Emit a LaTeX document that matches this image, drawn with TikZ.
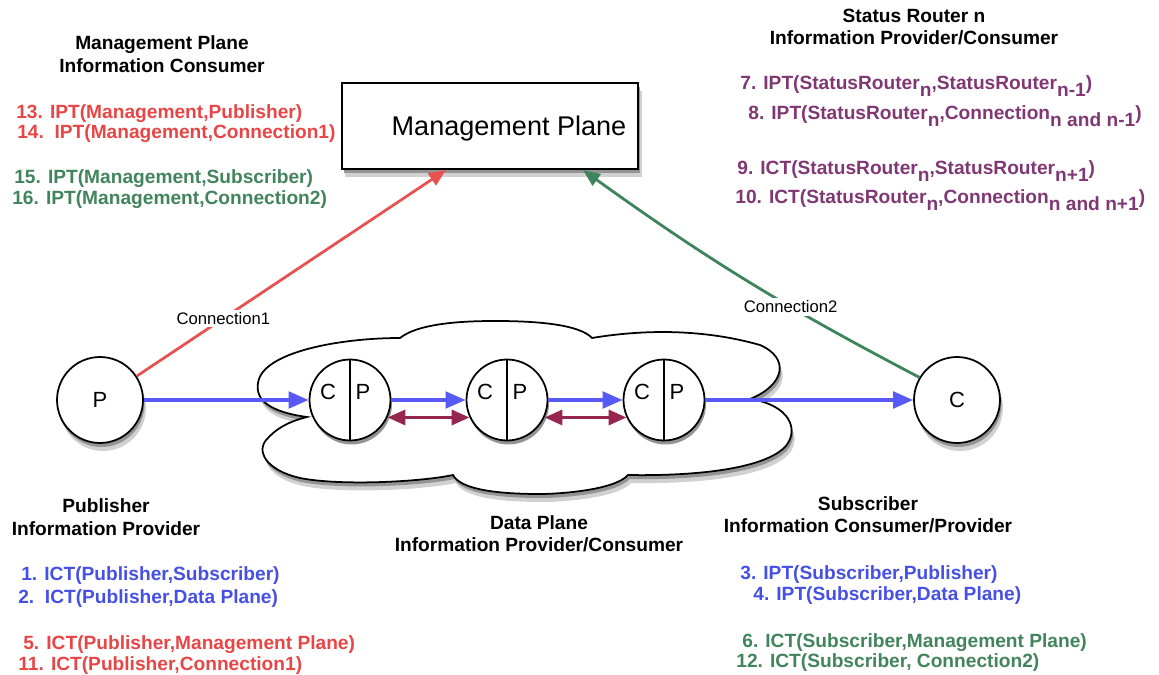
\documentclass[tikz,border=0pt]{standalone}
\usepackage{fontspec}
\setmainfont{Liberation Sans}
\usetikzlibrary{arrows.meta, positioning, calc}
\definecolor{lineblue}{RGB}{88, 90, 245}
\definecolor{textblue}{RGB}{70, 80, 228}
\definecolor{linered}{RGB}{232, 82, 82}
\definecolor{textred}{RGB}{232, 70, 70}
\definecolor{linegreen}{RGB}{62, 132, 92}
\definecolor{textgreen}{RGB}{66, 132, 92}
\definecolor{textpurple}{RGB}{128, 56, 116}
\definecolor{maroonred}{RGB}{150, 38, 80}
\newcommand{\sbs}[1]{\raisebox{-3.9pt}{#1}}
\newcommand{\cloudoutline}{(307,417) .. controls (270,412) and (255,400) .. (258,383)
      .. controls (262,352) and (340,338) .. (400,338)
      .. controls (420,322) and (470,321) .. (496,321)
      .. controls (540,321) and (580,325) .. (592,338)
      .. controls (640,330) and (700,328) .. (760,345)
      .. controls (790,358) and (785,385) .. (750,399)
      .. controls (790,405) and (800,430) .. (785,447)
      .. controls (760,472) and (680,476) .. (628,475)
      .. controls (615,490) and (560,494) .. (540,494)
      .. controls (490,494) and (460,488) .. (453,475)
      .. controls (420,482) and (340,486) .. (300,478)
      .. controls (265,470) and (255,450) .. (268,438)
      .. controls (280,425) and (295,420) .. (307,417) -- cycle}
\tikzset{
  flowarrow_blue/.style={-{Triangle[length=4mm, width=3.3mm]}, line width=2pt, lineblue},
  flowarrow_red/.style={-{Triangle[length=3.4mm, width=2.8mm]}, line width=1.6pt, linered},
  flowarrow_green/.style={-{Triangle[length=3.4mm, width=2.8mm]}, line width=1.6pt, linegreen},
  flowarrow_maroon/.style={{Triangle[length=3.6mm, width=3mm]}-{Triangle[length=3.6mm, width=3mm]}, line width=2pt, maroonred},
  shadowfar/.style={fill=black!18},
  shadownear/.style={fill=black!42}
}
\tikzset{
  endpoint/.style={circle, draw=black, line width=1pt, fill=white, minimum size=1.72cm, inner sep=0pt, font=\fontsize{12.5}{14}\selectfont},
  routercell/.style={circle, draw=black, line width=1pt, fill=white, minimum size=1.62cm, inner sep=0pt},
  celltext/.style={inner sep=0pt, font=\fontsize{12.5}{14}\selectfont},
  planebox/.style={rectangle, draw=black, line width=1.2pt, fill=white, minimum width=5.92cm, minimum height=1.72cm},
  boxtext/.style={inner sep=0pt, font=\fontsize{15.4}{18}\selectfont},
  headtext/.style={align=center, inner sep=0pt, font=\bfseries\fontsize{10.9}{12.8}\selectfont},
  itemtext/.style={anchor=base west, inner sep=0pt, font=\bfseries\fontsize{10.9}{13}\selectfont},
  linklabel/.style={fill=white, inner sep=1.5pt, text=black, font=\fontsize{9.5}{11}\selectfont}
}

\begin{document}
\begin{tikzpicture}[x=0.02cm, y=-0.02cm]
    \useasboundingbox (0,0) rectangle (1159,675);

    % Soft shadows
    \fill[shadowfar, shift={(3,8)}] \cloudoutline;
    \fill[shadownear, shift={(1.5,4)}] \cloudoutline;
    \fill[shadowfar] (345,91) rectangle (642,177);
    \fill[shadownear] (343.5,87) rectangle (640,173);
    \fill[shadowfar] (103,408) circle[radius=0.86cm];
    \fill[shadownear] (101.5,404) circle[radius=0.86cm];
    \fill[shadowfar] (960,408) circle[radius=0.86cm];
    \fill[shadownear] (958.5,404) circle[radius=0.86cm];

    % Data plane cloud
    \path[draw=black, line width=1pt, fill=white] \cloudoutline;

    % Management plane
    \node[planebox] (mgmt) at (490,126) {};
    \node[boxtext] (mgmtname) at (509,129) {Management Plane};

    % Publisher and subscriber
    \node[endpoint] (pub) at (100,400) {P};
    \node[endpoint] (sub) at (957,400) {C};

    % Status routers
    \fill[shadownear] (351.5,404) circle[radius=0.81cm];
    \node[routercell] (sr1) at (350,400) {};
    \draw[line width=0.8pt] (sr1.north) -- (sr1.south);
    \node[celltext] (sr1c) at ($(sr1)+(-22,-8)$) {C};
    \node[celltext] (sr1p) at ($(sr1)+(13,-8)$) {P};

    \fill[shadownear] (508.5,404) circle[radius=0.81cm];
    \node[routercell] (sr2) at (507,400) {};
    \draw[line width=0.8pt] (sr2.north) -- (sr2.south);
    \node[celltext] (sr2c) at ($(sr2)+(-22,-8)$) {C};
    \node[celltext] (sr2p) at ($(sr2)+(13,-8)$) {P};

    \fill[shadownear] (665.5,404) circle[radius=0.81cm];
    \node[routercell] (sr3) at (664,400) {};
    \draw[line width=0.8pt] (sr3.north) -- (sr3.south);
    \node[celltext] (sr3c) at ($(sr3)+(-22,-8)$) {C};
    \node[celltext] (sr3p) at ($(sr3)+(13,-8)$) {P};

    % Data path
    \draw[flowarrow_blue] (pub) -- (sr1);
    \draw[flowarrow_blue] (sr1) -- (sr2);
    \draw[flowarrow_blue] (sr2) -- (sr3);
    \draw[flowarrow_blue] (sr3) -- (sub);
    \draw[flowarrow_maroon] (sr1.-25) -- (sr2.205);
    \draw[flowarrow_maroon] (sr2.-25) -- (sr3.205);

    % Connections to management plane
    \draw[flowarrow_red] (pub.33) -- ($(mgmt.south)+(-44,0)$) node[pos=0.28, linklabel] (conn1) {Connection1};
    \draw[flowarrow_green] (sub.149) to[bend left=4] node[pos=0.36, linklabel] (conn2) {Connection2} ($(mgmt.south)+(93,0)$);

    % Top-left (management plane)
    \node[headtext] (mghead) at (162,54) {Management Plane\\Information Consumer};
    \node[itemtext, text=textred] (it13) at (16,119) {13. IPT(Management,Publisher)};
    \node[itemtext, text=textred] (it14) at (17,139) {14.\ \ IPT(Management,Connection1)};
    \node[itemtext, text=textgreen] (it15) at (14,184) {15. IPT(Management,Subscriber)};
    \node[itemtext, text=textgreen] (it16) at (12,205) {16. IPT(Management,Connection2)};

    % Top-right (status router)
    \node[headtext] (srhead) at (914,27) {Status Router n\\Information Provider/Consumer};
    \node[itemtext, text=textpurple] (it7) at (740,90) {7. IPT(StatusRouter\sbs{n},StatusRouter\sbs{n-1})};
    \node[itemtext, text=textpurple] (it8) at (748,120) {8. IPT(StatusRouter\sbs{n},Connection\sbs{n and n-1})};
    \node[itemtext, text=textpurple] (it9) at (737,175) {9. ICT(StatusRouter\sbs{n},StatusRouter\sbs{n+1})};
    \node[itemtext, text=textpurple] (it10) at (735,204) {10. ICT(StatusRouter\sbs{n},Connection\sbs{n and n+1})};

    % Bottom-left (publisher)
    \node[headtext] (pubhead) at (106,517) {Publisher\\Information Provider};
    \node[itemtext, text=textblue] (it1) at (21,580) {1. ICT(Publisher,Subscriber)};
    \node[itemtext, text=textblue] (it2) at (18,603) {2.\ \ ICT(Publisher,Data Plane)};
    \node[itemtext, text=textred] (it5) at (23,649) {5. ICT(Publisher,Management Plane)};
    \node[itemtext, text=textred] (it11) at (18,670) {11. ICT(Publisher,Connection1)};

    % Bottom-middle (data plane)
    \node[headtext] (dphead) at (539,534) {Data Plane\\Information Provider/Consumer};

    % Bottom-right (subscriber)
    \node[headtext] (subhead) at (868,515) {Subscriber\\Information Consumer/Provider};
    \node[itemtext, text=textblue] (it3) at (740,579) {3. IPT(Subscriber,Publisher)};
    \node[itemtext, text=textblue] (it4) at (753,600) {4. IPT(Subscriber,Data Plane)};
    \node[itemtext, text=textgreen] (it6) at (742,647) {6. ICT(Subscriber,Management Plane)};
    \node[itemtext, text=textgreen] (it12) at (736,667) {12. ICT(Subscriber, Connection2)};
\end{tikzpicture}
\end{document}
